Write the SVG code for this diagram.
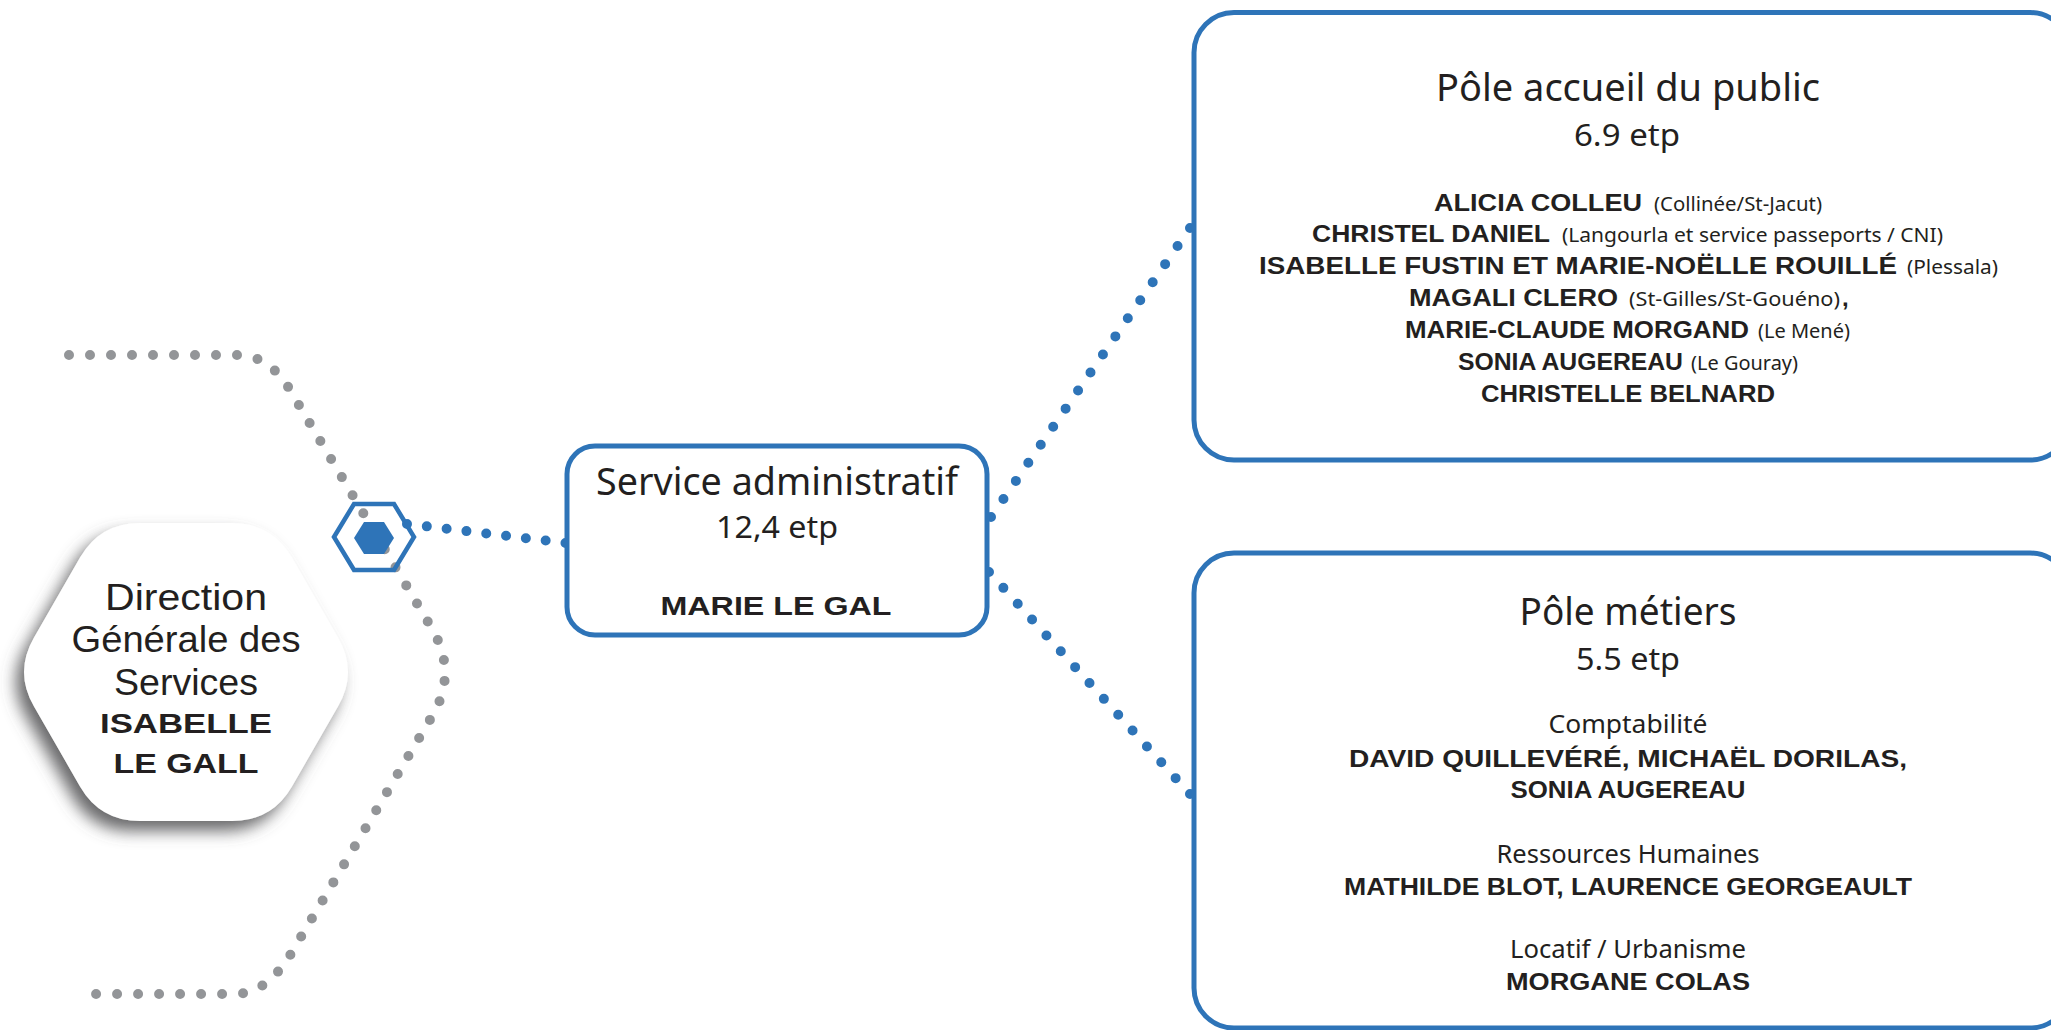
<svg xmlns="http://www.w3.org/2000/svg" width="2051" height="1030" viewBox="0 0 2051 1030">
  <style>
    .sans { font-family: "Noto Sans", "Open Sans", "Liberation Sans", sans-serif; fill: #231F20; }
    .lib { font-family: "Liberation Sans", "DejaVu Sans", sans-serif; fill: #231F20; }
    .hand { font-family: "Liberation Sans", "DejaVu Sans", sans-serif; font-weight: bold; fill: #231F20; }
    .mid { text-anchor: middle; }
    .box { fill: #FFFFFF; stroke: #2E74B8; stroke-width: 5; }
    .bluedots { fill: none; stroke: #2E74B8; stroke-width: 10; stroke-linecap: round; }
    .graydots { fill: none; stroke: #939598; stroke-width: 10; stroke-linecap: round; stroke-dasharray: 0 21; }
  </style>
  <defs>
    <filter id="shadow" x="-30%" y="-30%" width="160%" height="160%">
      <feDropShadow dx="-8" dy="10" stdDeviation="8" flood-color="#58595B" flood-opacity="0.9"/>
    </filter>
  </defs>
  <rect x="0" y="0" width="2051" height="1030" fill="#FFFFFF"/>

  <!-- Direction hexagon node -->
  <g id="node-direction">
    <path d="M34 637.4 L80 557.6 Q100 523 140 523 L232 523 Q272 523 292 557.6 L338 637.4 Q358 672 338 706.6 L292 786.4 Q272 821 232 821 L140 821 Q100 821 80 786.4 L34 706.6 Q14 672 34 637.4 Z" fill="#FFFFFF" filter="url(#shadow)"/>
    <text class="lib mid" x="186" y="610" font-size="37" textLength="162" lengthAdjust="spacingAndGlyphs">Direction</text>
    <text class="lib mid" x="186" y="652" font-size="37" textLength="229" lengthAdjust="spacingAndGlyphs">Générale des</text>
    <text class="lib mid" x="186" y="695" font-size="37" textLength="144" lengthAdjust="spacingAndGlyphs">Services</text>
    <text class="hand mid" x="186" y="733" font-size="28" textLength="172" lengthAdjust="spacingAndGlyphs">ISABELLE</text>
    <text class="hand mid" x="186" y="773" font-size="28" textLength="145" lengthAdjust="spacingAndGlyphs">LE GALL</text>
  </g>

  <!-- Connectors -->
  <g id="connectors">
    <path class="graydots" d="M69 355 L237 355 Q269 355 290 390 L431 627 Q459 673 431 718 L292 952 Q267 994 235 994 L88 994"/>
    <path class="bluedots" stroke-dasharray="0 19.95" d="M407 524 L566 543"/>
    <path class="bluedots" stroke-dasharray="0 21.93" d="M991 517 L1190 228"/>
    <path class="bluedots" stroke-dasharray="0 21.39" d="M989 572 L1190 794"/>
  </g>

  <!-- Small hexagon junction -->
  <g id="node-junction">
    <polygon points="334,537 354,504 394,504 414,537 394,570 354,570" fill="none" stroke="#2E74B8" stroke-width="4.5" stroke-linejoin="miter"/>
    <polygon points="354,538 364,522 384,522 394,538 384,554 364,554" fill="#2E74B8"/>
  </g>

  <!-- Service administratif -->
  <g id="node-service-administratif">
    <rect class="box" x="567" y="446" width="420" height="189" rx="28" ry="28" stroke-width="4.5"/>
    <text class="sans mid" x="777" y="495" font-size="39" textLength="362" lengthAdjust="spacingAndGlyphs">Service administratif</text>
    <text class="sans mid" x="777" y="538" font-size="31" textLength="122" lengthAdjust="spacingAndGlyphs">12,4 etp</text>
    <text class="hand mid" x="776" y="615" font-size="26" textLength="231" lengthAdjust="spacingAndGlyphs">MARIE LE GAL</text>
  </g>

  <!-- Pôle accueil du public -->
  <g id="node-pole-accueil">
    <rect class="box" x="1194" y="12.5" width="876" height="447.5" rx="40" ry="40"/>
    <text class="sans mid" x="1628" y="101" font-size="38" textLength="384" lengthAdjust="spacingAndGlyphs">Pôle accueil du public</text>
    <text class="sans mid" x="1627" y="146" font-size="30" textLength="106" lengthAdjust="spacingAndGlyphs">6.9 etp</text>

    <text class="hand" x="1434" y="211" font-size="24" textLength="208" lengthAdjust="spacingAndGlyphs">ALICIA COLLEU</text>
    <text class="sans" x="1654" y="211" font-size="20" textLength="168" lengthAdjust="spacingAndGlyphs">(Collinée/St-Jacut)</text>

    <text class="hand" x="1312" y="242" font-size="24" textLength="238" lengthAdjust="spacingAndGlyphs">CHRISTEL DANIEL</text>
    <text class="sans" x="1562" y="242" font-size="20" textLength="381" lengthAdjust="spacingAndGlyphs">(Langourla et service passeports / CNI)</text>

    <text class="hand" x="1259" y="274" font-size="24" textLength="638" lengthAdjust="spacingAndGlyphs">ISABELLE FUSTIN ET MARIE-NOËLLE ROUILLÉ</text>
    <text class="sans" x="1907" y="274" font-size="20" textLength="91" lengthAdjust="spacingAndGlyphs">(Plessala)</text>

    <text class="hand" x="1409" y="306" font-size="24" textLength="209" lengthAdjust="spacingAndGlyphs">MAGALI CLERO</text>
    <text class="sans" x="1629" y="306" font-size="20" textLength="211" lengthAdjust="spacingAndGlyphs">(St-Gilles/St-Gouéno)</text>
    <text class="hand" x="1842" y="306" font-size="24">,</text>

    <text class="hand" x="1405" y="338" font-size="24" textLength="344" lengthAdjust="spacingAndGlyphs">MARIE-CLAUDE MORGAND</text>
    <text class="sans" x="1758" y="338" font-size="20" textLength="92" lengthAdjust="spacingAndGlyphs">(Le Mené)</text>

    <text class="hand" x="1458" y="370" font-size="24" textLength="225" lengthAdjust="spacingAndGlyphs">SONIA AUGEREAU</text>
    <text class="sans" x="1691" y="370" font-size="20" textLength="107" lengthAdjust="spacingAndGlyphs">(Le Gouray)</text>

    <text class="hand" x="1481" y="402" font-size="24" textLength="294" lengthAdjust="spacingAndGlyphs">CHRISTELLE BELNARD</text>
  </g>

  <!-- Pôle métiers -->
  <g id="node-pole-metiers">
    <rect class="box" x="1194" y="553" width="876" height="475" rx="40" ry="40"/>
    <text class="sans mid" x="1628" y="625" font-size="38" textLength="217" lengthAdjust="spacingAndGlyphs">Pôle métiers</text>
    <text class="sans mid" x="1628" y="670" font-size="30" textLength="104" lengthAdjust="spacingAndGlyphs">5.5 etp</text>

    <text class="sans mid" x="1628" y="733" font-size="26" textLength="159" lengthAdjust="spacingAndGlyphs">Comptabilité</text>
    <text class="hand mid" x="1628" y="767" font-size="24" textLength="558" lengthAdjust="spacingAndGlyphs">DAVID QUILLEVÉRÉ, MICHAËL DORILAS,</text>
    <text class="hand mid" x="1628" y="798" font-size="24" textLength="235" lengthAdjust="spacingAndGlyphs">SONIA AUGEREAU</text>

    <text class="sans mid" x="1628" y="863" font-size="26" textLength="263" lengthAdjust="spacingAndGlyphs">Ressources Humaines</text>
    <text class="hand mid" x="1628" y="895" font-size="24" textLength="568" lengthAdjust="spacingAndGlyphs">MATHILDE BLOT, LAURENCE GEORGEAULT</text>

    <text class="sans mid" x="1628" y="958" font-size="26" textLength="236" lengthAdjust="spacingAndGlyphs">Locatif / Urbanisme</text>
    <text class="hand mid" x="1628" y="990" font-size="24" textLength="244" lengthAdjust="spacingAndGlyphs">MORGANE COLAS</text>
  </g>
</svg>
